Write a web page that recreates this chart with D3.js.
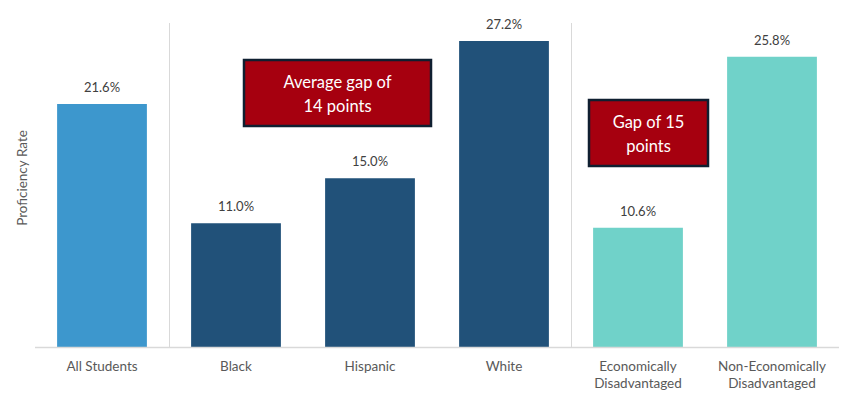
<!DOCTYPE html>
<html>
<head>
<meta charset="utf-8">
<script src="https://cdn.jsdelivr.net/npm/d3@7"></script>
<style>
  body { margin: 0; background: #fff; }
  svg text { font-family: Lato, "Open Sans", sans-serif; }
</style>
</head>
<body>
<div id="chart"></div>
<script>
// Chart data
const categories = ["All Students", "Black", "Hispanic", "White", "Economically Disadvantaged", "Non-Economically Disadvantaged"];
const labelLines = [["All Students"], ["Black"], ["Hispanic"], ["White"], ["Economically", "Disadvantaged"], ["Non-Economically", "Disadvantaged"]];
const values = [21.6, 11.0, 15.0, 27.2, 10.6, 25.8];
const groups = ["all", "race", "race", "race", "econ", "econ"];
const groupColors = { all: "#3d97cd", race: "#215179", econ: "#70d2c9" };
const callouts = [
    { lines: ["Average gap of", "14 points"] },
    { lines: ["Gap of 15", "points"] }
];

const width = 849;
const height = 396;
const baseline = 347;

const svg = d3.select("#chart")
    .append("svg")
    .attr("width", width)
    .attr("height", height);

const x = d3.scaleBand()
    .domain(categories)
    .range([35, 839])
    .paddingInner(0.33)
    .paddingOuter(0.165);

const y = d3.scaleLinear()
    .domain([0, 30])
    .range([baseline, baseline - 11.25 * 30]);

// Group separators
[categories[1], categories[4]].forEach(c => {
    const sx = Math.round(x(c) - x.step() * x.paddingInner() / 2) + 0.5;
    svg.append("line")
        .attr("x1", sx).attr("x2", sx)
        .attr("y1", 23).attr("y2", baseline)
        .attr("stroke", "#d9d9d9")
        .attr("stroke-width", 1);
});

// Bars
svg.selectAll("rect.bar")
    .data(values)
    .enter()
    .append("rect")
    .attr("class", "bar")
    .attr("x", (d, i) => x(categories[i]))
    .attr("y", d => y(d))
    .attr("width", x.bandwidth())
    .attr("height", d => y(0) - y(d))
    .attr("fill", (d, i) => groupColors[groups[i]]);

// Value labels
svg.selectAll("text.value")
    .data(values)
    .enter()
    .append("text")
    .attr("class", "value")
    .attr("x", (d, i) => x(categories[i]) + x.bandwidth() / 2)
    .attr("y", d => y(d) - 12)
    .attr("text-anchor", "middle")
    .attr("font-size", 13)
    .attr("fill", "#404040")
    .text(d => d.toFixed(1) + "%");

// Baseline
svg.append("line")
    .attr("x1", 35).attr("x2", 839)
    .attr("y1", baseline + 0.5).attr("y2", baseline + 0.5)
    .attr("stroke", "#d9d9d9")
    .attr("stroke-width", 1.5);

// Category labels
const catLabel = svg.selectAll("text.cat")
    .data(labelLines)
    .enter()
    .append("text")
    .attr("class", "cat")
    .attr("x", (d, i) => x(categories[i]) + x.bandwidth() / 2)
    .attr("y", 371)
    .attr("text-anchor", "middle")
    .attr("font-size", 13.5)
    .attr("fill", "#595959");

catLabel.selectAll("tspan")
    .data(d => d)
    .enter()
    .append("tspan")
    .attr("x", function() { return d3.select(this.parentNode).attr("x"); })
    .attr("dy", (d, i) => i === 0 ? 0 : 17)
    .text(d => d);

// Axis title
svg.append("text")
    .attr("transform", "translate(27,178) rotate(-90)")
    .attr("text-anchor", "middle")
    .attr("font-size", 13.5)
    .attr("fill", "#595959")
    .text("Proficiency Rate");

// Callout boxes
const boxes = [
    { x: 244, y: 60, w: 187, h: 66 },
    { x: 589, y: 100, w: 119, h: 66 }
];
callouts.forEach((c, k) => {
    const b = boxes[k];
    svg.append("rect")
        .attr("x", b.x).attr("y", b.y)
        .attr("width", b.w).attr("height", b.h)
        .attr("fill", "#a6000f")
        .attr("stroke", "#0f1f30")
        .attr("stroke-width", 2.5);
    const t = svg.append("text")
        .attr("x", b.x + b.w / 2)
        .attr("y", b.y + 28)
        .attr("text-anchor", "middle")
        .attr("font-size", 16.5)
        .attr("fill", "#ffffff");
    c.lines.forEach((line, i) => {
        t.append("tspan")
            .attr("x", b.x + b.w / 2)
            .attr("dy", i === 0 ? 0 : 24)
            .text(line);
    });
});
</script>
</body>
</html>
